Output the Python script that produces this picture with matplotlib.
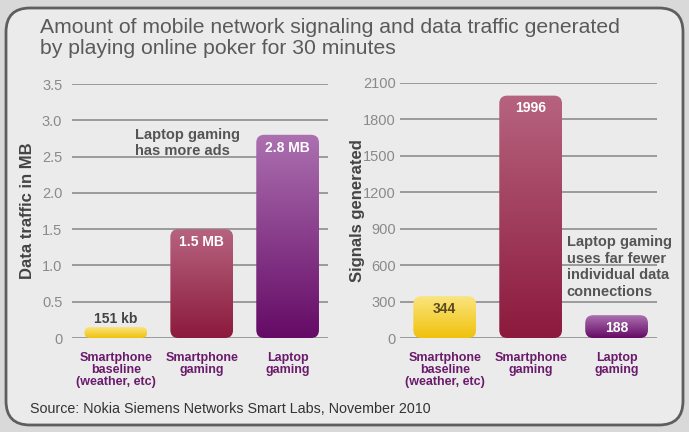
import numpy as np
import matplotlib
matplotlib.use("Agg")
import matplotlib.pyplot as plt
from matplotlib.patches import FancyBboxPatch
from matplotlib.colors import LinearSegmentedColormap

plt.rcParams['font.family'] = ['Liberation Sans', 'DejaVu Sans']

categories = ["Smartphone\nbaseline\n(weather, etc)", "Smartphone\ngaming", "Laptop\ngaming"]
data_mb = [0.151, 1.5, 2.8]
data_labels = ["151 kb", "1.5 MB", "2.8 MB"]
signals = [344, 1996, 188]
signal_labels = ["344", "1996", "188"]

# top, bottom colours of each bar gradient
bar_colors = [("#fbe47e", "#f0c20c"), ("#b6637f", "#8c1a3d"), ("#ac70b0", "#650b66")]
label_colors = ["#444444", "white", "white"]
signal_label_colors = ["#5a4a1e", "white", "white"]

W, H = 689, 432
fig = plt.figure(figsize=(W / 100, H / 100), dpi=100)
fig.patch.set_facecolor("#d9d9d9")

frame = FancyBboxPatch((0.06, 0.07), 6.77, 4.17, boxstyle="round,pad=0,rounding_size=0.24",
                       transform=fig.dpi_scale_trans, facecolor="#ebebeb",
                       edgecolor="#5e5e5e", linewidth=2, zorder=-10)
fig.patches.append(frame)

fig.text(40 / W, 1 - 18 / H, "Amount of mobile network signaling and data traffic generated\n"
         "by playing online poker for 30 minutes", ha="left", va="top",
         fontsize=15.2, color="#5a5a5a", linespacing=1.1)
fig.text(30 / W, 1 - 409 / H, "Source: Nokia Siemens Networks Smart Labs, November 2010",
         ha="left", va="center", fontsize=10.3, color="#333333")


def gradient_bars(ax, values, colors, radius_px=8):
    bars = ax.bar(range(len(values)), values, width=0.73, alpha=0)
    fig.canvas.draw()
    bb = ax.get_window_extent()
    x0, x1 = ax.get_xlim()
    y0, y1 = ax.get_ylim()
    xu = (x1 - x0) / bb.width
    yu = (y1 - y0) / bb.height
    for b, (top, bot) in zip(bars, colors):
        x, w, h = b.get_x(), b.get_width(), b.get_height()
        r = min(radius_px, h / yu / 2)
        patch = FancyBboxPatch((x, 0), w, h, boxstyle=f"round,pad=0,rounding_size={r * xu}",
                               mutation_aspect=yu / xu, facecolor="none", edgecolor="none",
                               transform=ax.transData, zorder=2)
        ax.add_patch(patch)
        cmap = LinearSegmentedColormap.from_list("g", [bot, top])
        grad = np.linspace(0, 1, 100).reshape(-1, 1)
        im = ax.imshow(grad, cmap=cmap, extent=(x, x + w, 0, h), origin="lower",
                       aspect="auto", zorder=2)
        im.set_clip_path(patch)
    ax.set_xlim(x0, x1)
    ax.set_ylim(y0, y1)
    return bars


def style_axes(ax, ylabel, pad, ylab_x):
    for s in ax.spines.values():
        s.set_visible(False)
    ax.set_facecolor("none")
    ax.yaxis.grid(True, color="#9a9a9a", linewidth=1.4)
    ax.set_axisbelow(True)
    ax.tick_params(axis="y", length=0, pad=pad, labelsize=10.5, labelcolor="#8a8a8a")
    ax.tick_params(axis="x", length=0, pad=10)
    ax.set_xticks(range(3))
    ax.set_xticklabels(categories, fontsize=9, fontweight="bold", color="#6b1b6b",
                       linespacing=1.0)
    ax.set_ylabel(ylabel, fontsize=12, fontweight="bold", color="#444444")
    ax.yaxis.set_label_coords(ylab_x, 0.5)


# left: data traffic
ax1 = fig.add_axes([72 / W, 1 - 338 / H, 256 / W, 254 / H])
ax1.set_xlim(-0.51, 2.47)
ax1.set_ylim(0, 3.5)
ax1.set_yticks(np.arange(0, 3.51, 0.5))
ax1.set_yticklabels(["0", "0.5", "1.0", "1.5", "2.0", "2.5", "3.0", "3.5"])
style_axes(ax1, "Data traffic in MB", 7, -0.145)
bars1 = gradient_bars(ax1, data_mb, bar_colors)
for b, lab, c in zip(bars1, data_labels, label_colors):
    cx = b.get_x() + b.get_width() / 2
    if b.get_height() < 0.5:
        ax1.text(cx, b.get_height() + 0.02, lab, ha="center", va="bottom", fontsize=10,
                 fontweight="bold", color=c, zorder=3)
    else:
        ax1.text(cx, b.get_height() - 0.08, lab, ha="center", va="top", fontsize=10,
                 fontweight="bold", color=c, zorder=3)
ax1.text(0.22, 2.9, "Laptop gaming\nhas more ads", ha="left", va="top", fontsize=10.5,
         fontweight="bold", color="#555555", linespacing=1.2, zorder=3)

# right: signals
ax2 = fig.add_axes([400 / W, 1 - 338 / H, 257 / W, 255 / H])
ax2.set_xlim(-0.52, 2.47)
ax2.set_ylim(0, 2100)
ax2.set_yticks(np.arange(0, 2101, 300))
style_axes(ax2, "Signals generated", 3, -0.135)
bars2 = gradient_bars(ax2, signals, bar_colors)
for b, lab, c in zip(bars2, signal_labels, signal_label_colors):
    cx = b.get_x() + b.get_width() / 2
    ax2.text(cx, b.get_height() - 45, lab, ha="center", va="top", fontsize=10,
             fontweight="bold", color=c, zorder=3)
ax2.text(1.42, 850, "Laptop gaming\nuses far fewer\nindividual data\nconnections",
         ha="left", va="top", fontsize=10.5, fontweight="bold", color="#555555",
         linespacing=1.25, zorder=3)

fig.savefig("out.png", dpi=100, facecolor=fig.get_facecolor())
